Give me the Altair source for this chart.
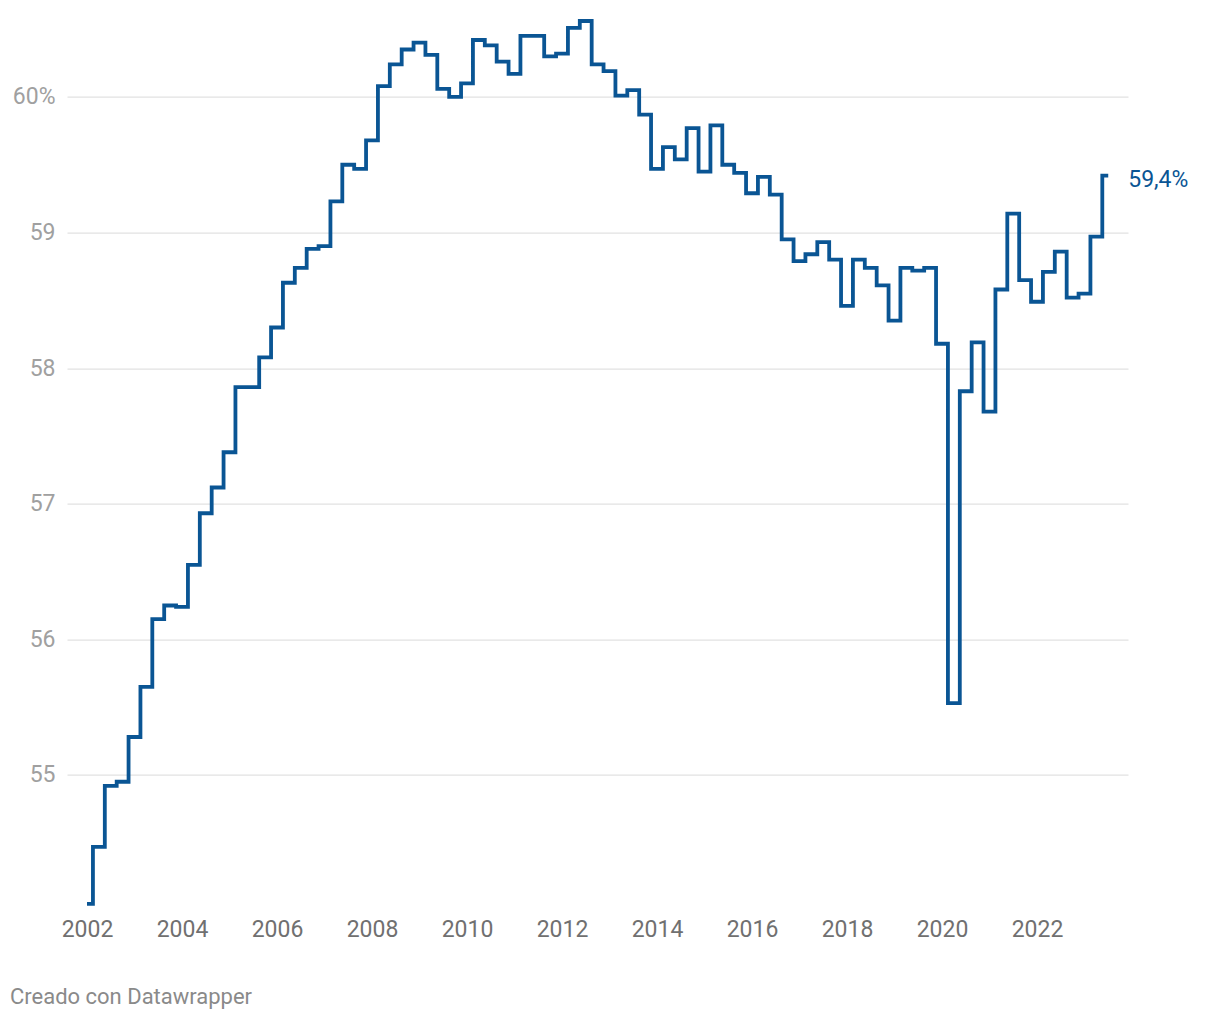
import altair as alt
import pandas as pd

# Quarterly values, 2002 Q1 .. 2023 Q3 (%)
start_year = 2002
values = [
    54.05, 54.47, 54.92, 54.95, 55.28, 55.65, 56.15, 56.25, 56.24, 56.55,
    56.93, 57.12, 57.38, 57.86, 57.86, 58.08, 58.30, 58.63, 58.74, 58.88,
    58.90, 59.23, 59.50, 59.47, 59.68, 60.08, 60.24, 60.35, 60.40, 60.31,
    60.06, 60.00, 60.10, 60.42, 60.38, 60.26, 60.17, 60.45, 60.45, 60.30,
    60.32, 60.51, 60.56, 60.24, 60.19, 60.01, 60.05, 59.87, 59.47, 59.63,
    59.54, 59.77, 59.45, 59.79, 59.50, 59.44, 59.29, 59.41, 59.28, 58.95,
    58.79, 58.84, 58.93, 58.80, 58.46, 58.80, 58.74, 58.61, 58.35, 58.74,
    58.72, 58.74, 58.18, 55.53, 57.83, 58.19, 57.68, 58.58, 59.14, 58.65,
    58.49, 58.71, 58.86, 58.52, 58.55, 58.97, 59.42,
]
x_ticks = list(range(2002, 2023, 2))
y_ticks = [55, 56, 57, 58, 59, 60]
last_label = "59,4%"
footer = "Creado con Datawrapper"

df = pd.DataFrame({
    "t": [start_year + i / 4 for i in range(len(values))],
    "v": values,
})
last_df = df.tail(1).assign(label=last_label)

COLOR = "#0a5594"
FONT = "Roboto"

x_scale = alt.Scale(domain=[2001.579, 2023.916], nice=False, zero=False)
y_scale = alt.Scale(domain=[54.0, 60.6], nice=False, zero=False)

line = alt.Chart(df).mark_line(
    interpolate="step", color=COLOR, strokeWidth=3.8, strokeJoin="miter"
).encode(
    x=alt.X("t:Q", scale=x_scale, axis=alt.Axis(
        values=x_ticks, format="d", title=None, grid=False, domain=False,
        ticks=False, labelFontSize=23, labelColor="#707070", labelFont=FONT,
        labelPadding=8, labelFlush=False)),
    y=alt.Y("v:Q", scale=y_scale, axis=alt.Axis(
        values=y_ticks, title=None, grid=True, gridColor="#e2e2e2",
        gridWidth=1.2, domain=False, ticks=False, labelFontSize=23,
        labelColor="#a0a0a0", labelFont=FONT, labelPadding=12,
        labelExpr="datum.value == 60 ? '60%' : datum.value")),
)

label = alt.Chart(last_df).mark_text(
    align="left", baseline="middle", dx=20, dy=4, fontSize=23,
    font=FONT, color=COLOR
).encode(x="t:Q", y="v:Q", text="label:N")

foot = alt.Chart(pd.DataFrame({"f": [footer]})).mark_text(
    align="left", baseline="middle", fontSize=22, font=FONT, color="#8a8a8a"
).encode(x=alt.value(-57), y=alt.value(981), text="f:N")

chart = alt.layer(line, label, foot).properties(
    width=1061, height=895,
    autosize=alt.AutoSizeParams(type="none"),
    padding={"left": 67, "top": 15.6, "right": 92, "bottom": 109},
).configure(
    background="white", view=alt.ViewConfig(stroke=None)
)

chart.save("out.html", embed_options={"renderer": "svg", "actions": False})
